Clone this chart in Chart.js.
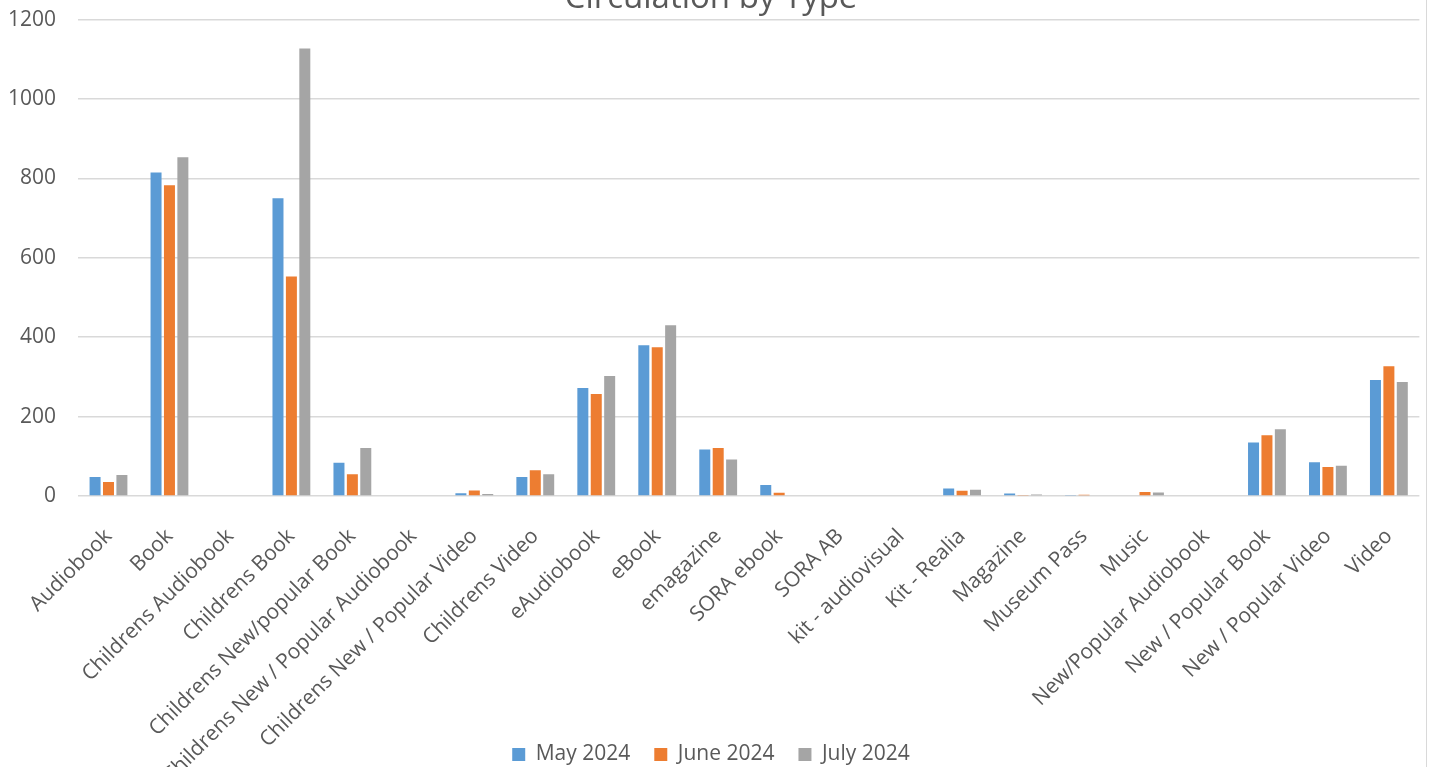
<!DOCTYPE html>
<html>
<head>
<meta charset="utf-8">
<title>Circulation by Type</title>
<script src="https://cdn.jsdelivr.net/npm/chart.js@4.4.1/dist/chart.umd.min.js"></script>
<style>
  html,body{margin:0;padding:0;background:#fff;}
  #wrap{position:relative;width:1435px;height:767px;overflow:hidden;background:#fff;}
  #wrap canvas{position:absolute;left:0;top:-26px;}
  #edge{position:absolute;left:1426px;top:0;width:1px;height:767px;background:#d9d9d9;}
</style>
</head>
<body>
<div id="wrap">
  <canvas id="chart" width="1435" height="813"></canvas>
  <div id="edge"></div>
</div>
<script>
const categories = ['Audiobook','Book','Childrens Audiobook','Childrens Book','Childrens New/popular Book',
  'Childrens New / Popular Audiobook','Childrens New / Popular Video','Childrens Video','eAudiobook','eBook',
  'emagazine','SORA ebook','SORA AB','kit - audiovisual','Kit - Realia','Magazine','Museum Pass','Music',
  'New/Popular Audiobook','New / Popular Book','New / Popular Video','Video'];
const may2024  = [48, 815, 0, 750, 84, 0, 7, 48, 272, 380, 117, 28, 2, 0, 19, 6, 1, 0, 0, 135, 85, 292];
const june2024 = [35, 783, 0, 553, 55, 0, 14, 65, 257, 375, 121, 8, 0, 0, 13, 1, 3, 10, 0, 153, 73, 327];
const july2024 = [53, 853, 0, 1127, 121, 0, 5, 55, 302, 430, 92, 0, 0, 0, 16, 4, 2, 9, 0, 168, 76, 287];
const yTicks = [0, 200, 400, 600, 800, 1000, 1200];

const FONT = '"Open Sans", sans-serif';
const TXT = '#595959';

// let the long category labels run down past the axis box, over the legend row
const labelOverflow = {
  id: 'labelOverflow',
  afterLayout(chart) { chart.scales.x.bottom = chart.height; }
};

const ctx = document.getElementById('chart').getContext('2d');
new Chart(ctx, {
  type: 'bar',
  data: {
    labels: categories,
    datasets: [
      {label:'May 2024',  data:may2024,  backgroundColor:'#5b9bd5'},
      {label:'June 2024', data:june2024, backgroundColor:'#ed7d31'},
      {label:'July 2024', data:july2024, backgroundColor:'#a5a5a5'}
    ]
  },
  plugins: [labelOverflow],
  options: {
    responsive: false,
    animation: false,
    datasets: {bar: {categoryPercentage: 0.66, barPercentage: 0.82}},
    layout: {padding: {left: 0, right: 13, top: 0, bottom: 12}},
    plugins: {
      title: {display: true, text: 'Circulation by Type', color: TXT,
        font: {family: FONT, size: 33, weight: 'normal'}, padding: {top: 5, bottom: 1}},
      legend: {position: 'bottom',
        labels: {color: TXT, font: {family: FONT, size: 21}, boxWidth: 13, boxHeight: 13, padding: 24}},
      tooltip: {enabled: false}
    },
    scales: {
      x: {
        grid: {display: false, drawTicks: false},
        border: {display: false},
        ticks: {color: TXT, font: {family: FONT, size: 21}, maxRotation: 45, minRotation: 45, autoSkip: false, padding: 28},
        afterFit: s => { s.height = 224; }
      },
      y: {
        min: 0, max: 1200,
        grid: {color: '#d9d9d9', lineWidth: 1.5, drawTicks: false},
        border: {display: false},
        afterBuildTicks: s => { s.ticks = yTicks.map(v => ({value: v})); },
        ticks: {color: TXT, font: {family: FONT, size: 21}, padding: 22, callback: v => String(v)},
        afterFit: s => { s.width = 78; }
      }
    }
  }
});
</script>
</body>
</html>
